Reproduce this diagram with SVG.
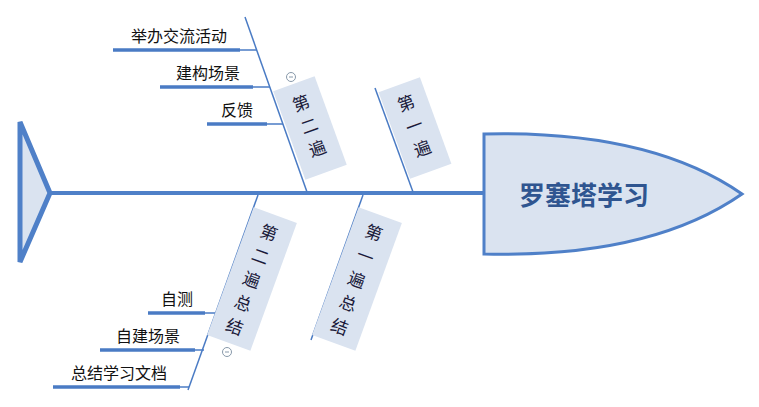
<svg xmlns="http://www.w3.org/2000/svg" width="759" height="407" viewBox="0 0 759 407">
<style>
.t{font-family:"Noto Sans CJK SC","Liberation Sans",sans-serif;font-size:16px;fill:#111}
.ul{stroke:#4a7bc4;stroke-width:3.5;fill:none}
.th{stroke:#4a7bc4;stroke-width:1.5;fill:none}
.box{fill:#dae3f0}
.bt{font-family:"Noto Sans CJK SC","Liberation Sans",sans-serif;font-size:17px;fill:#1a1a3a;text-anchor:middle}
.col{fill:none;stroke:#8899aa;stroke-width:1}
</style>
<rect width="759" height="407" fill="#fff"/>
<g id="connectors">
<line x1="50" y1="193" x2="484" y2="193" stroke="#4f80c8" stroke-width="4"/>
<line class="th" x1="245" y1="17" x2="307" y2="192"/>
<line class="th" x1="375" y1="88" x2="413" y2="192"/>
<line class="th" x1="258" y1="195" x2="188" y2="390"/>
<line class="th" x1="363" y1="195" x2="311" y2="340"/>
<line class="th" x1="238" y1="50" x2="257" y2="50"/>
<line class="th" x1="252" y1="87" x2="270" y2="87"/>
<line class="th" x1="265" y1="124" x2="283" y2="124"/>
<line class="th" x1="203" y1="313" x2="217" y2="313"/>
<line class="th" x1="193" y1="350" x2="204" y2="350"/>
<line class="th" x1="178" y1="387" x2="189" y2="387"/>
</g>
<g id="tail"><polygon points="20,122 50,193 20,262" fill="#dae3f0" stroke="#4f80c8" stroke-width="5" stroke-linejoin="miter"/></g>
<g id="head">
<path d="M484,134 Q650,130 742,194 Q650,258 484,254 Z" fill="#dae3f0" stroke="#4f80c8" stroke-width="3"/>
<text x="584" y="205" text-anchor="middle" font-family="Noto Sans CJK SC,Liberation Sans,sans-serif" font-size="26" font-weight="bold" fill="#2f5590">罗塞塔学习</text>
</g>
<g id="b2">
<g transform="rotate(-20 310 128)">
<rect class="box" x="288" y="81" width="44" height="94"/>
<text class="bt" x="310" y="108">第</text><text class="bt" x="310" y="132">二</text><text class="bt" x="310" y="156">遍</text>
</g>
<circle class="col" cx="291" cy="77" r="4.5"/><line x1="289" y1="77" x2="293" y2="77" stroke="#8899aa"/>
</g>
<g id="b1">
<g transform="rotate(-20 415 128)">
<rect class="box" x="393" y="82" width="44" height="92"/>
<text class="bt" x="415" y="108">第</text><text class="bt" x="415" y="132">一</text><text class="bt" x="415" y="156">遍</text>
</g>
</g>
<g id="b4">
<g transform="rotate(20 252 279)">
<rect class="box" x="229" y="211" width="46" height="136"/>
<text class="bt" x="252" y="236">第</text><text class="bt" x="252" y="261">二</text><text class="bt" x="252" y="286">遍</text><text class="bt" x="252" y="311">总</text><text class="bt" x="252" y="336">结</text>
</g>
<circle class="col" cx="227" cy="352" r="4.5"/><line x1="225" y1="352" x2="229" y2="352" stroke="#8899aa"/>
</g>
<g id="b3">
<g transform="rotate(20 357 279)">
<rect class="box" x="334" y="211" width="46" height="136"/>
<text class="bt" x="357" y="236">第</text><text class="bt" x="357" y="261">一</text><text class="bt" x="357" y="286">遍</text><text class="bt" x="357" y="311">总</text><text class="bt" x="357" y="336">结</text>
</g>
</g>
<g id="l1"><text class="t" x="227" y="42" text-anchor="end">举办交流活动</text><line class="ul" x1="113" y1="50" x2="240" y2="50"/></g>
<g id="l2"><text class="t" x="240" y="79" text-anchor="end">建构场景</text><line class="ul" x1="160" y1="87" x2="253" y2="87"/></g>
<g id="l3"><text class="t" x="253" y="116" text-anchor="end">反馈</text><line class="ul" x1="207" y1="124" x2="267" y2="124"/></g>
<g id="l4"><text class="t" x="193" y="305" text-anchor="end">自测</text><line class="ul" x1="148" y1="313" x2="205" y2="313"/></g>
<g id="l5"><text class="t" x="180" y="342" text-anchor="end">自建场景</text><line class="ul" x1="100" y1="350" x2="195" y2="350"/></g>
<g id="l6"><text class="t" x="167" y="379" text-anchor="end">总结学习文档</text><line class="ul" x1="53" y1="387" x2="180" y2="387"/></g>
</svg>
